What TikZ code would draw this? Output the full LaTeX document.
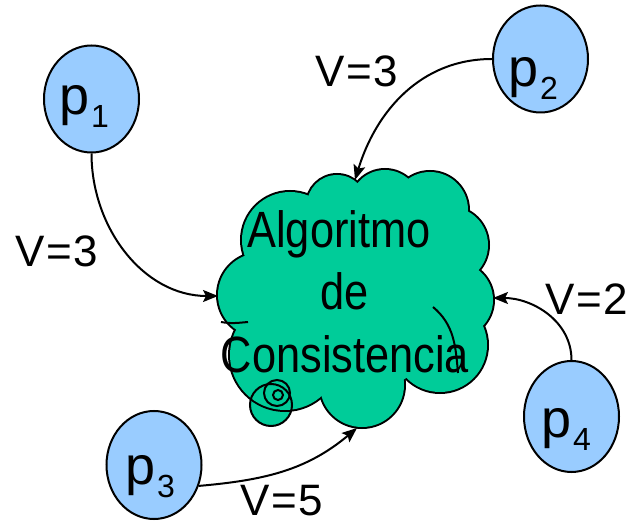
\documentclass[tikz,border=0pt]{standalone}
\usepackage{fontspec}
\setmainfont{Liberation Sans}
\usetikzlibrary{arrows.meta,shapes.geometric}
\definecolor{cloudgreen}{HTML}{00CC99}
\definecolor{procblue}{HTML}{99CCFF}
\newcommand{\plabel}[1]{\fontsize{54}{54}\selectfont p\kern1.5pt\raisebox{-13pt}{\fontsize{32}{32}\selectfont #1}}
\newcommand{\vval}[1]{V\kern1.5pt=\kern1.5pt#1}
\begin{document}
\begin{tikzpicture}[x=1pt,y=1pt,
  proc/.style={ellipse, draw=black, line width=2pt, fill=procblue, minimum width=95pt, minimum height=107pt, inner sep=0pt},
  plbl/.style={anchor=base west, inner sep=0pt},
  vlbl/.style={anchor=base west, inner sep=0pt, text depth=0pt, font=\fontsize{44}{44}\selectfont},
  arr/.style={line width=2pt, -{Stealth[length=15pt,width=12pt,inset=3pt]}},
  ctext/.style={font=\fontsize{51}{62}\selectfont, xscale=0.85, inner sep=0pt, anchor=base},
  cloudline/.style={line width=4pt, draw=black},
  crease/.style={line width=2pt, draw=black},
  tail/.style={line width=2pt, draw=black},
]
\useasboundingbox (0,0) rectangle (635,525);

% tail big circle fill (under the cloud)
\fill[cloudgreen] (271,120) circle (21);

% cloud as union of circles
\foreach \cx/\cy/\r in {290/285/48, 337/320/30, 385/320/35, 430/315/38, 450/280/38, 455/225/38, 440/180/47, 362/140/42, 285/170/55, 260/230/42}
  \draw[cloudline] (\cx,\cy) circle (\r);
\foreach \cx/\cy/\r in {290/285/48, 337/320/30, 385/320/35, 430/315/38, 450/280/38, 455/225/38, 440/180/47, 362/140/42, 285/170/55, 260/230/42}
  \fill[cloudgreen] (\cx,\cy) circle (\r);
\fill[cloudgreen] (355,227) circle (95);

% inner creases of the cloud
\draw[crease] (433,218) to[out=-40,in=95] (458,152);
\draw[crease] (221,203) to[out=-10,in=185] (248,203);

% tail circles
\draw[tail] (271,120) circle (21);
\draw[tail] (277,132) circle (13);
\draw[tail] (278,130) circle (5);

% cloud text
\node[ctext] (t1) at (339,277) {Algoritmo};
\node[ctext] (t2) at (345,215) {de};
\node[ctext] (t3) at (345,152) {Consistencia};

% processes
\node[proc] (p1) at (91.5,426) {};
\node[proc] (p2) at (540.5,466) {};
\node[proc, minimum height=108pt] (p3) at (154,60) {};
\node[proc, minimum height=111pt] (p4) at (571.5,108.5) {};

\node[plbl] (l1) at (59.5,410) {\plabel{1}};
\node[plbl] (l2) at (508.5,438) {\plabel{2}};
\node[plbl] (l3) at (125.5,40) {\plabel{3}};
\node[plbl] (l4) at (541.5,87) {\plabel{4}};

% arrow tips on the cloud
\coordinate (e1) at (218,229);
\coordinate (e2) at (355,345);
\coordinate (e3) at (357,97);
\coordinate (e4) at (493,227);

\draw[arr] (p1.south) to[out=-90,in=180] (e1);
\draw[arr] (p2.west) to[out=180,in=73] (e2);
\draw[arr] (p3.-25) to[out=5,in=-140] (e3);
\draw[arr] (p4.north) to[out=90,in=0] (e4);

% value labels
\node[vlbl] (v1) at (15,258) {\vval{3}};
\node[vlbl] (v2) at (315,438) {\vval{3}};
\node[vlbl] (v4) at (545,210) {\vval{2}};
\node[vlbl] (v3) at (240,9) {\vval{5}};
\end{tikzpicture}
\end{document}
